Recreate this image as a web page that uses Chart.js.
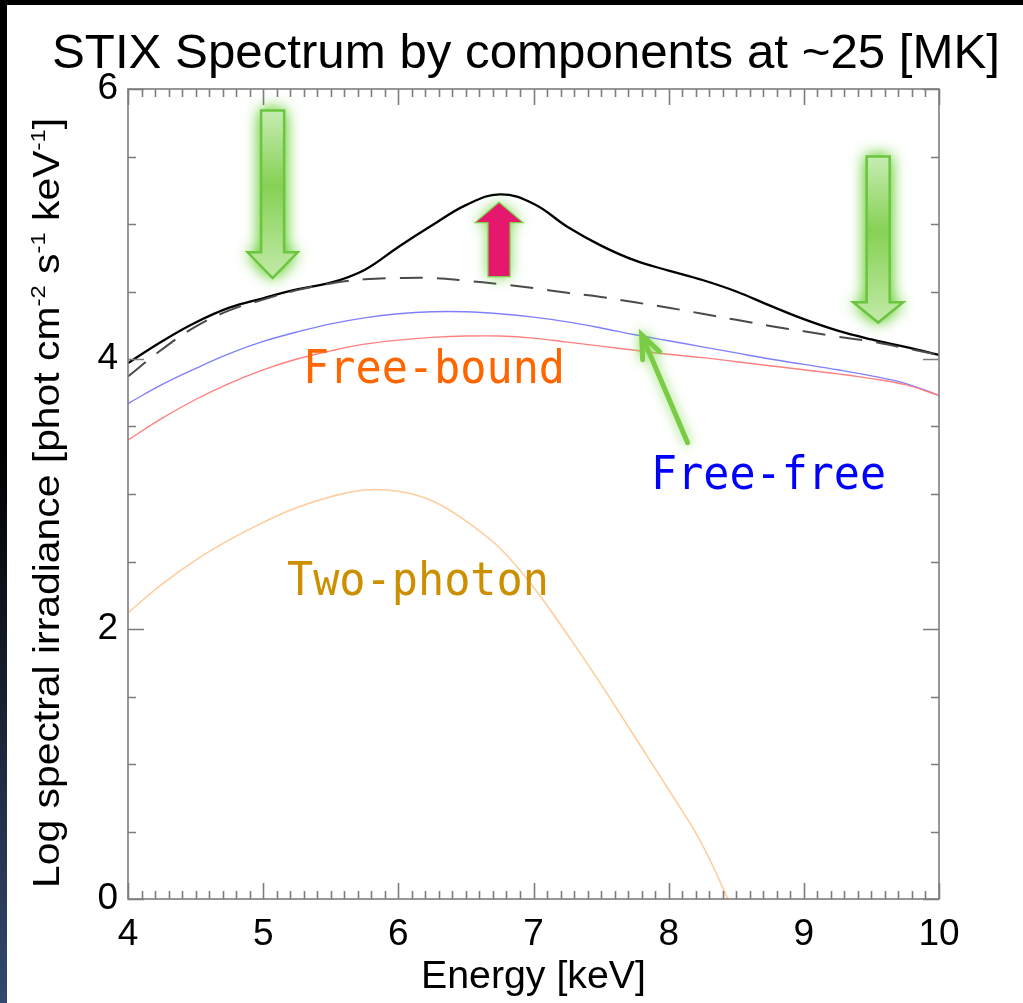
<!DOCTYPE html>
<html>
<head>
<meta charset="utf-8">
<script src="https://cdn.jsdelivr.net/npm/chart.js@4.4.1/dist/chart.umd.min.js"></script>
<style>
  html, body { margin: 0; padding: 0; background: #000; }
  #wrap { width: 1023px; height: 1003px; }
</style>
</head>
<body>
<div id="wrap"><canvas id="stixChart" width="1023" height="1003"></canvas></div>
<script>
// energies in keV
const energy = [4.0, 4.25, 4.5, 4.75, 5.0, 5.25, 5.5, 5.75, 6.0, 6.25, 6.5, 6.75, 7.0,
                7.25, 7.5, 7.75, 8.0, 8.25, 8.5, 8.75, 9.0, 9.25, 9.5, 9.75, 10.0];

// log spectral irradiance per component
const totalSpec = [3.97, 4.13, 4.27, 4.38, 4.45, 4.515, 4.565, 4.66, 4.83, 4.99, 5.14, 5.22, 5.15,
                   4.98, 4.84, 4.73, 4.655, 4.585, 4.50, 4.395, 4.295, 4.21, 4.145, 4.09, 4.03];
const continuum = [3.87, 4.07, 4.24, 4.36, 4.44, 4.51, 4.56, 4.59, 4.60, 4.60, 4.58, 4.555, 4.525,
                   4.49, 4.46, 4.42, 4.38, 4.335, 4.29, 4.245, 4.205, 4.165, 4.13, 4.08, 4.03];
const freeFree  = [3.67, 3.81, 3.93, 4.04, 4.13, 4.20, 4.26, 4.305, 4.335, 4.35, 4.35, 4.335, 4.31,
                   4.275, 4.23, 4.18, 4.135, 4.09, 4.045, 4.00, 3.96, 3.92, 3.875, 3.82, 3.73];
const freeBound = [3.40, 3.56, 3.70, 3.82, 3.92, 4.00, 4.06, 4.11, 4.14, 4.16, 4.17, 4.17, 4.155,
                   4.125, 4.095, 4.065, 4.035, 4.01, 3.98, 3.95, 3.92, 3.89, 3.855, 3.81, 3.73];
const twoPhoton = [2.12, 2.33, 2.51, 2.66, 2.79, 2.90, 2.98, 3.03, 3.02, 2.95, 2.80, 2.60, 2.31,
                   1.96, 1.59, 1.20, 0.81, 0.40, -0.14, null, null, null, null, null, null];

const xTickStep = 1;
const yTickStep = 2;

function pts(vals) {
  return energy.map((e, i) => ({ x: e, y: vals[i] }));
}

function line(vals, color, width, dash) {
  return {
    data: pts(vals),
    borderColor: color,
    borderWidth: width,
    borderDash: dash || [],
    pointRadius: 0,
    fill: false,
    tension: 0.4,
    spanGaps: false
  };
}

// background frame (black border, white page)
const framePlugin = {
  id: 'frame',
  beforeDraw(chart) {
    const c = chart.ctx;
    c.save();
    c.fillStyle = '#000';
    c.fillRect(0, 0, chart.width, chart.height);
    const g = c.createLinearGradient(0, 450, 0, chart.height);
    g.addColorStop(0, '#000');
    g.addColorStop(1, '#34496f');
    c.fillStyle = g;
    c.fillRect(0, 450, 7, chart.height - 450);
    c.fillStyle = '#fff';
    c.fillRect(7, 5, chart.width - 7, chart.height - 5);
    c.restore();
  }
};

function fitText(c, text, x, y, width, font, color, align) {
  c.save();
  c.font = font;
  c.fillStyle = color;
  c.textBaseline = 'alphabetic';
  const w = c.measureText(text).width;
  const k = width / w;
  c.translate(x, y);
  c.scale(k, 1);
  c.textAlign = align || 'left';
  c.fillText(text, 0, 0);
  c.restore();
}

function blockArrow(c, cx, yTail, yBase, yTip, sh, hh) {
  c.beginPath();
  c.moveTo(cx - sh, yTail);
  c.lineTo(cx + sh, yTail);
  c.lineTo(cx + sh, yBase);
  c.lineTo(cx + hh, yBase);
  c.lineTo(cx, yTip);
  c.lineTo(cx - hh, yBase);
  c.lineTo(cx - sh, yBase);
  c.closePath();
}

function greenArrow(chart, xv, tailV, baseV, tipV) {
  const c = chart.ctx, x = chart.scales.x, y = chart.scales.y;
  const cx = x.getPixelForValue(xv);
  const yt = y.getPixelForValue(tailV), yb = y.getPixelForValue(baseV), yp = y.getPixelForValue(tipV);
  c.save();
  const g = c.createLinearGradient(0, yt, 0, yp);
  g.addColorStop(0, '#c6ecb2');
  g.addColorStop(0.45, '#86d154');
  g.addColorStop(1, '#c2eaa8');
  blockArrow(c, cx, yt, yb, yp, 11.5, 25);
  c.shadowColor = 'rgba(110,210,60,0.95)';
  c.shadowBlur = 16;
  c.fillStyle = g;
  c.fill();
  c.fill();
  c.shadowBlur = 0;
  c.strokeStyle = '#6cc53e';
  c.lineWidth = 2.5;
  c.stroke();
  c.restore();
}

const notesPlugin = {
  id: 'notes',
  afterDatasetsDraw(chart) {
    const c = chart.ctx, x = chart.scales.x, y = chart.scales.y;

    greenArrow(chart, 5.07, 5.84, 4.79, 4.60);
    greenArrow(chart, 9.55, 5.50, 4.42, 4.27);

    // pink up arrow at the Fe line peak
    const px = x.getPixelForValue(6.745);
    c.save();
    blockArrow(c, px, y.getPixelForValue(4.61), y.getPixelForValue(5.01), y.getPixelForValue(5.16), 11, 24);
    c.shadowColor = 'rgba(110,210,60,0.95)';
    c.shadowBlur = 14;
    c.fillStyle = '#e6186e';
    c.fill();
    c.shadowBlur = 0;
    c.strokeStyle = '#7ccf48';
    c.lineWidth = 1.2;
    c.stroke();
    c.restore();

    // thin green pointer to free-free line
    const tx = x.getPixelForValue(7.80), ty = y.getPixelForValue(4.18);
    const sx = x.getPixelForValue(8.14), sy = y.getPixelForValue(3.38);
    c.save();
    c.strokeStyle = '#7acc45';
    c.lineWidth = 5;
    c.lineCap = 'round';
    c.shadowColor = 'rgba(120,215,70,0.9)';
    c.shadowBlur = 12;
    c.beginPath();
    c.moveTo(sx, sy); c.lineTo(tx, ty);
    c.moveTo(tx + 1, ty + 25); c.lineTo(tx, ty); c.lineTo(tx + 18, ty + 17);
    c.stroke();
    c.restore();

    const mono = '46px "DejaVu Sans Mono", monospace';
    fitText(c, 'Free-bound', x.getPixelForValue(5.295), y.getPixelForValue(3.82), 262, mono, '#ff6600');
    fitText(c, 'Free-free', x.getPixelForValue(7.87), y.getPixelForValue(3.04), 235, mono, '#0000ff');
    fitText(c, 'Two-photon', x.getPixelForValue(5.176), y.getPixelForValue(2.25), 262, mono, '#cc8f00');
  },
  afterDraw(chart) {
    const c = chart.ctx, a = chart.chartArea, x = chart.scales.x, y = chart.scales.y;
    c.save();
    c.strokeStyle = '#7d7d7d';
    c.lineWidth = 1.6;
    c.strokeRect(a.left, a.top, a.right - a.left, a.bottom - a.top);
    c.beginPath();
    for (let i = 0; i <= 60; i++) {
      const px = Math.round(x.getPixelForValue(4 + i / 10)) + 0.5;
      const len = i % 10 === 0 ? 16 : 8;
      c.moveTo(px, a.bottom); c.lineTo(px, a.bottom - len);
      c.moveTo(px, a.top); c.lineTo(px, a.top + len);
    }
    for (let i = 0; i <= 12; i++) {
      const py = Math.round(y.getPixelForValue(i / 2)) + 0.5;
      const len = i % 4 === 0 ? 16 : 8;
      c.moveTo(a.left, py); c.lineTo(a.left + len, py);
      c.moveTo(a.right, py); c.lineTo(a.right - len, py);
    }
    c.stroke();
    c.restore();

    // title
    fitText(c, 'STIX Spectrum by components at ~25 [MK]', 52, 68, 948, '49px "Liberation Sans", Arial, sans-serif', '#000');
    // x title
    fitText(c, 'Energy [keV]', (a.left + a.right) / 2, 988, 225, '38px "Liberation Sans", Arial, sans-serif', '#000', 'center');

    // y title with superscripts, rotated
    const segs = [
      ['Log spectral irradiance [phot cm', false], ['-2', true], [' s', false], ['-1', true],
      [' keV', false], ['-1', true], [']', false]
    ];
    const big = '36px "Liberation Sans", Arial, sans-serif';
    const small = '21px "Liberation Sans", Arial, sans-serif';
    c.save();
    let total = 0;
    segs.forEach(s => { c.font = s[1] ? small : big; total += c.measureText(s[0]).width; });
    const k = 770 / total;
    c.translate(59, 888);
    c.rotate(-Math.PI / 2);
    c.scale(k, 1);
    c.fillStyle = '#000';
    let pos = 0;
    segs.forEach(s => {
      c.font = s[1] ? small : big;
      c.fillText(s[0], pos, s[1] ? -14 : 0);
      pos += c.measureText(s[0]).width;
    });
    c.restore();
  }
};

const tickFont = { family: '"Liberation Sans", Arial, sans-serif', size: 37 };

new Chart(document.getElementById('stixChart'), {
  type: 'line',
  data: {
    datasets: [
      line(twoPhoton, '#ffcc9e', 1.6),
      line(freeBound, '#ff8080', 1.4),
      line(freeFree, '#8080ff', 1.4),
      line(continuum, '#4a4a4a', 2, [23, 14]),
      line(totalSpec, '#000000', 2.3)
    ]
  },
  options: {
    responsive: false,
    animation: false,
    devicePixelRatio: 1,
    layout: { padding: { left: 0, top: 89, right: 84, bottom: 0 } },
    plugins: { legend: { display: false }, tooltip: { enabled: false }, title: { display: false } },
    scales: {
      x: {
        type: 'linear', min: 4, max: 10,
        ticks: { stepSize: xTickStep, font: tickFont, color: '#000', padding: 14, maxRotation: 0, autoSkip: false },
        grid: { display: false, drawTicks: false },
        border: { display: false },
        afterFit(s) { s.height = 104; }
      },
      y: {
        min: 0, max: 6,
        ticks: { stepSize: yTickStep, font: tickFont, color: '#000', padding: 10 },
        grid: { display: false, drawTicks: false },
        border: { display: false },
        afterFit(s) { s.width = 128; }
      }
    }
  },
  plugins: [framePlugin, notesPlugin]
});
</script>
</body>
</html>
